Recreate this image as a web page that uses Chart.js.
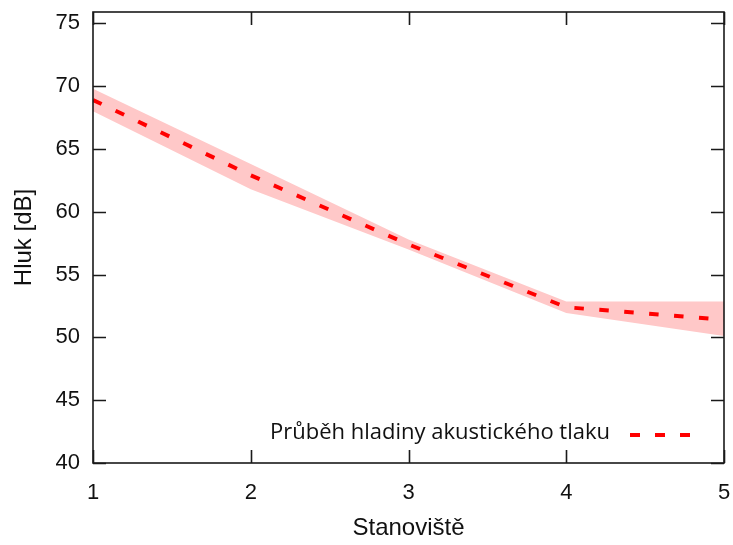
<!DOCTYPE html>
<html>
<head>
<meta charset="utf-8">
<script src="https://cdn.jsdelivr.net/npm/chart.js@4"></script>
<style>
  html, body { margin: 0; padding: 0; background: #fff; }
  #wrap { width: 733px; height: 545px; }
</style>
</head>
<body>
<div id="wrap"><canvas id="hlukChart" width="733" height="545"></canvas></div>
<script>
// Data
var stanoviste = [1, 2, 3, 4, 5];
var hluk = [68.9, 62.9, 57.4, 52.4, 51.4];
var hlukHorni = [69.8, 63.8, 57.8, 52.85, 52.85];
var hlukDolni = [68.0, 61.8, 57.0, 51.95, 50.1];
var yTicks = [40, 45, 50, 55, 60, 65, 70, 75];
var legendText = 'Průběh hladiny akustického tlaku';

function pts(vals) {
    return stanoviste.map(function (s, i) { return { x: s, y: vals[i] }; });
}

var fontAxis = '"Liberation Sans", Arial, sans-serif';

// border, inward ticks (mirrored) and in-plot legend
var gnuplotLook = {
    id: 'gnuplotLook',
    afterDatasetsDraw: function (chart) {
        var ctx = chart.ctx, a = chart.chartArea;
        var xs = chart.scales.x, ys = chart.scales.y;
        var tl = 13;
        ctx.save();
        ctx.strokeStyle = '#1a1a1a';
        ctx.lineWidth = 1.6;
        ctx.beginPath();
        yTicks.forEach(function (v) {
            var py = Math.round(ys.getPixelForValue(v)) + 0.5;
            ctx.moveTo(a.left, py); ctx.lineTo(a.left + tl, py);
            ctx.moveTo(a.right, py); ctx.lineTo(a.right - tl, py);
        });
        stanoviste.forEach(function (v) {
            var px = Math.round(xs.getPixelForValue(v)) + 0.5;
            ctx.moveTo(px, a.bottom); ctx.lineTo(px, a.bottom - tl);
            ctx.moveTo(px, a.top); ctx.lineTo(px, a.top + tl);
        });
        ctx.stroke();
        ctx.strokeRect(a.left, a.top, a.right - a.left, a.bottom - a.top);

        // legend
        var ds = chart.data.datasets[2];
        ctx.font = '22px "Open Sans", "Noto Sans", sans-serif';
        ctx.fillStyle = '#111';
        ctx.textAlign = 'right';
        ctx.textBaseline = 'middle';
        var ly = 433;
        ctx.fillText(legendText, 610, ly);
        ctx.strokeStyle = ds.borderColor;
        ctx.lineWidth = ds.borderWidth;
        ctx.setLineDash([10, 15]);
        ctx.beginPath();
        ctx.moveTo(630, ly + 2);
        ctx.lineTo(690, ly + 2);
        ctx.stroke();
        ctx.restore();
    }
};

new Chart("hlukChart", {
    type: "line",
    data: {
        datasets: [{
            label: 'horni',
            data: pts(hlukHorni),
            borderWidth: 0,
            borderColor: 'rgba(0,0,0,0)',
            pointRadius: 0,
            fill: false,
            tension: 0,
            order: 2
        }, {
            label: 'dolni',
            data: pts(hlukDolni),
            borderWidth: 0,
            borderColor: 'rgba(0,0,0,0)',
            pointRadius: 0,
            fill: '-1',
            backgroundColor: 'rgba(255, 200, 200, 1)',
            tension: 0,
            order: 1
        }, {
            label: legendText,
            data: pts(hluk),
            borderColor: '#ff0000',
            borderWidth: 4,
            borderDash: [9.5, 15.5],
            pointRadius: 0,
            fill: false,
            tension: 0,
            order: 0
        }]
    },
    options: {
        responsive: false,
        animation: false,
        layout: { padding: { top: 12, right: 9, left: 0, bottom: 0 } },
        plugins: {
            legend: { display: false },
            tooltip: { enabled: false }
        },
        scales: {
            x: {
                type: 'linear',
                min: 1,
                max: 5,
                grid: { display: false, drawTicks: false },
                border: { display: false },
                ticks: {
                    stepSize: 1,
                    padding: 17,
                    color: '#111',
                    font: { family: fontAxis, size: 22 }
                },
                title: {
                    display: true,
                    text: 'Stanoviště',
                    color: '#111',
                    font: { family: fontAxis, size: 24 },
                    padding: { top: 0, bottom: 2 }
                },
                afterFit: function (scale) {
                    scale.height = 82;
                    scale.paddingLeft = 0;
                    scale.paddingRight = 0;
                }
            },
            y: {
                min: 40,
                max: 75.9,
                grid: { display: false, drawTicks: false },
                border: { display: false },
                ticks: {
                    stepSize: 5,
                    includeBounds: false,
                    padding: 13,
                    color: '#111',
                    font: { family: fontAxis, size: 22 }
                },
                title: {
                    display: true,
                    text: 'Hluk [dB]',
                    color: '#111',
                    font: { family: fontAxis, size: 24 },
                    padding: { top: 10, bottom: 0 }
                },
                afterFit: function (scale) {
                    scale.width = 93;
                    scale.paddingTop = 0;
                    scale.paddingBottom = 0;
                }
            }
        }
    },
    plugins: [gnuplotLook]
});
</script>
</body>
</html>
